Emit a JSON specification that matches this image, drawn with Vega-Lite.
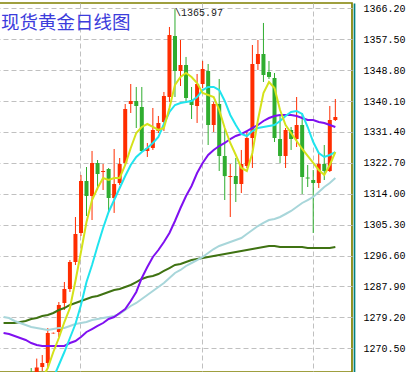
{
  "$schema": "https://vega.github.io/schema/vega-lite/v6.json",
  "width": 353,
  "height": 369,
  "autosize": {"type": "none"},
  "padding": {"left": -1, "top": 3, "right": 57, "bottom": 0},
  "background": "white",
  "config": {"view": {"stroke": "#808000", "strokeWidth": 1.7}},
  "title": {"text": "现货黄金日线图", "anchor": "start", "frame": "group", "orient": "top", "offset": -44, "baseline": "alphabetic", "font": "Noto Sans CJK SC", "fontSize": 18.5, "fontWeight": "normal", "color": "#3c3cdc", "dx": 2},
  "datasets": {
    "candles": [
      {"i":0,"o":1262.5,"h":1264.95,"l":1258,"c":1260},
      {"i":1,"o":1261.5,"h":1267.6,"l":1260.5,"c":1265.1},
      {"i":2,"o":1265.23,"h":1268.61,"l":1264.11,"c":1266.36},
      {"i":3,"o":1266.36,"h":1276.21,"l":1265.23,"c":1274.8},
      {"i":4,"o":1274.7,"h":1274.95,"l":1274.6,"c":1274.85},
      {"i":5,"o":1275.09,"h":1283.53,"l":1273.68,"c":1282.69},
      {"i":6,"o":1283.25,"h":1289.16,"l":1281.28,"c":1287.19},
      {"i":7,"o":1287.19,"h":1295.35,"l":1286.35,"c":1294.79},
      {"i":8,"o":1294.79,"h":1307.45,"l":1293.94,"c":1302.67},
      {"i":9,"o":1302.95,"h":1319.28,"l":1302.11,"c":1317.59},
      {"i":10,"o":1317.59,"h":1321.53,"l":1307.74,"c":1313.37},
      {"i":11,"o":1313.37,"h":1326.04,"l":1306.61,"c":1322.66},
      {"i":12,"o":1322.66,"h":1323.5,"l":1315.06,"c":1319.56},
      {"i":13,"o":1320.12,"h":1322.37,"l":1315.06,"c":1320.41},
      {"i":14,"o":1320.97,"h":1321.25,"l":1309.15,"c":1312.81},
      {"i":15,"o":1312.81,"h":1326.6,"l":1308.6,"c":1316.75},
      {"i":16,"o":1317.03,"h":1324.06,"l":1316.47,"c":1322.37},
      {"i":17,"o":1322.66,"h":1339.26,"l":1322.09,"c":1337.86},
      {"i":18,"o":1339.26,"h":1344.89,"l":1336.73,"c":1340.11},
      {"i":19,"o":1340.11,"h":1344.05,"l":1332.51,"c":1338.7},
      {"i":20,"o":1338.42,"h":1344.05,"l":1325.75,"c":1326.04},
      {"i":21,"o":1326.04,"h":1328.29,"l":1324.35,"c":1326.88},
      {"i":22,"o":1326.88,"h":1338.14,"l":1326.32,"c":1331.95},
      {"i":23,"o":1331.67,"h":1335.89,"l":1331.1,"c":1333.92},
      {"i":24,"o":1334.2,"h":1342.64,"l":1331.67,"c":1341.52},
      {"i":25,"o":1341.23,"h":1360.94,"l":1339.83,"c":1358.69},
      {"i":26,"o":1358.41,"h":1365.97,"l":1341.23,"c":1348.55},
      {"i":27,"o":1348.55,"h":1357.28,"l":1344.33,"c":1350.24},
      {"i":28,"o":1350.24,"h":1352.5,"l":1339.54,"c":1340.95},
      {"i":29,"o":1340.39,"h":1344.05,"l":1335.04,"c":1338.98},
      {"i":30,"o":1338.7,"h":1347.71,"l":1333.92,"c":1344.89},
      {"i":31,"o":1344.89,"h":1351.37,"l":1343.77,"c":1349.12},
      {"i":32,"o":1348.55,"h":1350.52,"l":1327.72,"c":1333.35},
      {"i":33,"o":1333.35,"h":1339.83,"l":1331.38,"c":1339.26},
      {"i":34,"o":1339.26,"h":1346.3,"l":1320.41,"c":1324.63},
      {"i":35,"o":1324.63,"h":1332.51,"l":1312.24,"c":1318.97},
      {"i":36,"o":1318.72,"h":1322.37,"l":1307.46,"c":1319.0},
      {"i":37,"o":1319.0,"h":1324.06,"l":1311.68,"c":1316.75},
      {"i":38,"o":1316.75,"h":1326.32,"l":1314.21,"c":1322.37},
      {"i":39,"o":1321.81,"h":1331.38,"l":1321.25,"c":1329.69},
      {"i":40,"o":1329.69,"h":1355.87,"l":1321.25,"c":1350.52},
      {"i":41,"o":1350.52,"h":1357.28,"l":1348.84,"c":1353.34},
      {"i":42,"o":1353.34,"h":1362.07,"l":1345.46,"c":1347.43},
      {"i":43,"o":1348.27,"h":1351.37,"l":1346.3,"c":1346.87},
      {"i":44,"o":1346.58,"h":1347.99,"l":1328.57,"c":1329.69},
      {"i":45,"o":1329.41,"h":1336.17,"l":1322.66,"c":1324.63},
      {"i":46,"o":1324.63,"h":1332.51,"l":1321.25,"c":1331.95},
      {"i":47,"o":1331.95,"h":1332.79,"l":1326.32,"c":1329.41},
      {"i":48,"o":1329.41,"h":1341.23,"l":1327.16,"c":1333.35},
      {"i":49,"o":1333.35,"h":1336.73,"l":1313.93,"c":1318.72},
      {"i":50,"o":1318.57,"h":1322.09,"l":1315.9,"c":1318.29},
      {"i":51,"o":1317.87,"h":1320.69,"l":1302.95,"c":1317.03},
      {"i":52,"o":1317.03,"h":1325.47,"l":1315.62,"c":1322.37},
      {"i":53,"o":1322.37,"h":1327.72,"l":1317.87,"c":1320.41},
      {"i":54,"o":1320.41,"h":1338.7,"l":1320.12,"c":1334.76},
      {"i":55,"o":1334.76,"h":1340.67,"l":1334.48,"c":1335.6}
    ],
    "ma": [
      {"i":-5,"m30":1274.81,"m60":1279.31,"m200":1277.62},
      {"i":-4,"m30":1274.53,"m60":1279.03,"m200":1277.62},
      {"i":-3,"m30":1273.96,"m60":1278.19,"m200":1277.62},
      {"i":-2,"m30":1273.4,"m60":1277.62,"m200":1277.9},
      {"i":-1,"m30":1272.84,"m60":1277.06,"m200":1278.19},
      {"i":0,"m30":1271.99,"m60":1276.5,"m200":1278.75},
      {"i":1,"m5":1257.36,"m10":1255.95,"m30":1271.43,"m60":1276.21,"m200":1279.03},
      {"i":2,"m5":1262.14,"m10":1257.36,"m30":1271.15,"m60":1275.93,"m200":1279.59},
      {"i":3,"m5":1264.96,"m10":1260.17,"m30":1271.15,"m60":1275.65,"m200":1279.87},
      {"i":4,"m5":1269.46,"m10":1262.14,"m30":1271.15,"m60":1275.93,"m200":1280.44},
      {"i":5,"m5":1273.4,"m10":1265.8,"m30":1271.15,"m60":1276.21,"m200":1281.28},
      {"i":6,"m5":1277.9,"m10":1269.46,"m30":1271.15,"m60":1276.21,"m200":1281.84},
      {"i":7,"m5":1281.84,"m10":1273.4,"m30":1271.99,"m60":1276.78,"m200":1282.69},
      {"i":8,"m5":1289.44,"m10":1277.34,"m30":1272.56,"m60":1277.34,"m200":1283.25},
      {"i":9,"m5":1297.61,"m10":1282.69,"m30":1273.68,"m60":1277.62,"m200":1283.81},
      {"i":10,"m5":1306.05,"m10":1289.16,"m30":1275.09,"m60":1277.9,"m200":1284.38},
      {"i":11,"m5":1312.24,"m10":1293.95,"m30":1275.93,"m60":1278.47,"m200":1284.94},
      {"i":12,"m5":1315.62,"m10":1299.3,"m30":1276.78,"m60":1278.75,"m200":1285.22},
      {"i":13,"m5":1318.44,"m10":1304.36,"m30":1277.62,"m60":1279.03,"m200":1285.78},
      {"i":14,"m5":1317.87,"m10":1308.87,"m30":1278.75,"m60":1279.31,"m200":1286.35},
      {"i":15,"m5":1318.44,"m10":1312.24,"m30":1279.31,"m60":1279.59,"m200":1286.91},
      {"i":16,"m5":1318.44,"m10":1315.62,"m30":1280.44,"m60":1280.16,"m200":1287.19},
      {"i":17,"m5":1322.09,"m10":1319.0,"m30":1281.56,"m60":1281.28,"m200":1287.76},
      {"i":18,"m5":1326.88,"m10":1322.09,"m30":1283.81,"m60":1282.41,"m200":1288.32},
      {"i":19,"m5":1331.1,"m10":1324.35,"m30":1286.35,"m60":1283.25,"m200":1289.16},
      {"i":20,"m5":1332.79,"m10":1325.75,"m30":1290.29,"m60":1284.38,"m200":1290.01},
      {"i":21,"m5":1333.63,"m10":1326.88,"m30":1293.38,"m60":1285.5,"m200":1290.57},
      {"i":22,"m5":1332.79,"m10":1328.29,"m30":1296.2,"m60":1286.63,"m200":1290.85},
      {"i":23,"m5":1331.95,"m10":1329.98,"m30":1298.17,"m60":1287.76,"m200":1291.41},
      {"i":24,"m5":1332.51,"m10":1333.63,"m30":1300.42,"m60":1288.88,"m200":1292.26},
      {"i":25,"m5":1338.14,"m10":1337.01,"m30":1302.95,"m60":1290.29,"m200":1293.1},
      {"i":26,"m5":1344.61,"m10":1338.98,"m30":1306.33,"m60":1291.7,"m200":1293.95},
      {"i":27,"m5":1346.86,"m10":1339.55,"m30":1309.99,"m60":1292.54,"m200":1294.23},
      {"i":28,"m5":1347.99,"m10":1339.83,"m30":1313.37,"m60":1293.67,"m200":1294.79},
      {"i":29,"m5":1346.86,"m10":1340.11,"m30":1316.18,"m60":1294.51,"m200":1295.35},
      {"i":30,"m5":1345.18,"m10":1341.23,"m30":1319.84,"m60":1295.35,"m200":1295.64},
      {"i":31,"m5":1342.36,"m10":1343.2,"m30":1322.66,"m60":1296.2,"m200":1295.92},
      {"i":32,"m5":1341.8,"m10":1344.05,"m30":1324.91,"m60":1297.33,"m200":1296.2},
      {"i":33,"m5":1341.23,"m10":1344.05,"m30":1326.32,"m60":1298.45,"m200":1296.48},
      {"i":34,"m5":1337.58,"m10":1343.2,"m30":1327.44,"m60":1299.3,"m200":1296.76},
      {"i":35,"m5":1332.51,"m10":1340.11,"m30":1328.29,"m60":1299.86,"m200":1297.04},
      {"i":36,"m5":1328.29,"m10":1336.17,"m30":1329.41,"m60":1300.42,"m200":1297.33},
      {"i":37,"m5":1324.91,"m10":1333.35,"m30":1330.26,"m60":1300.98,"m200":1297.61},
      {"i":38,"m5":1321.25,"m10":1330.82,"m30":1330.82,"m60":1301.55,"m200":1297.89},
      {"i":39,"m5":1320.41,"m10":1330.26,"m30":1331.66,"m60":1302.67,"m200":1298.17},
      {"i":40,"m5":1325.47,"m10":1331.66,"m30":1332.51,"m60":1303.8,"m200":1298.45},
      {"i":41,"m5":1334.76,"m10":1332.51,"m30":1333.35,"m60":1304.92,"m200":1298.73},
      {"i":42,"m5":1342.36,"m10":1332.79,"m30":1334.48,"m60":1305.77,"m200":1299.01},
      {"i":43,"m5":1345.46,"m10":1333.07,"m30":1335.32,"m60":1306.61,"m200":1299.3},
      {"i":44,"m5":1343.77,"m10":1333.35,"m30":1335.89,"m60":1306.9,"m200":1299.3},
      {"i":45,"m5":1337.58,"m10":1334.48,"m30":1336.17,"m60":1307.46,"m200":1299.01},
      {"i":46,"m5":1333.35,"m10":1335.89,"m30":1336.17,"m60":1308.3,"m200":1299.01},
      {"i":47,"m5":1331.1,"m10":1337.01,"m30":1336.17,"m60":1309.15,"m200":1299.01},
      {"i":48,"m5":1328.85,"m10":1337.29,"m30":1335.89,"m60":1310.27,"m200":1299.01},
      {"i":49,"m5":1326.6,"m10":1336.45,"m30":1335.32,"m60":1311.4,"m200":1299.01},
      {"i":50,"m5":1324.63,"m10":1332.79,"m30":1334.76,"m60":1312.24,"m200":1298.73},
      {"i":51,"m5":1322.66,"m10":1328.57,"m30":1334.76,"m60":1313.09,"m200":1298.73},
      {"i":52,"m5":1320.69,"m10":1325.47,"m30":1334.2,"m60":1314.49,"m200":1298.73},
      {"i":53,"m5":1319.28,"m10":1324.35,"m30":1333.92,"m60":1315.9,"m200":1298.73},
      {"i":54,"m5":1322.09,"m10":1324.91,"m30":1333.35,"m60":1317.03,"m200":1298.73},
      {"i":55,"m5":1325.75,"m10":1325.75,"m30":1332.79,"m60":1318.44,"m200":1299.01}
    ],
    "note": [{"i": 26, "p": 1365.97, "t": "\\1365.97"}]
  },
  "layer": [
    {
      "data": {"name": "candles"},
      "mark": {"type": "rule", "strokeWidth": 1, "clip": true},
      "encoding": {
        "x": {"field": "i", "type": "quantitative", "scale": {"domain": [-4.92, 57.109], "nice": false, "zero": false},
              "axis": {"orient": "bottom", "values": [8.8, 30.9, 51], "labels": false, "ticks": false, "domain": false, "grid": true, "gridColor": "#c0c0c0", "gridDash": [5, 3], "gridWidth": 1, "title": null}},
        "y": {"field": "l", "type": "quantitative", "scale": {"domain": [1263.83, 1367.69], "nice": false, "zero": false},
              "axis": {"orient": "right", "values": [1366.2, 1357.5, 1348.8, 1340.1, 1331.4, 1322.7, 1314.0, 1305.3, 1296.6, 1287.9, 1279.2, 1270.5], "format": ".2f", "labelFont": "Liberation Mono", "labelFontSize": 10, "labelColor": "#000000", "ticks": false, "domain": true, "domainColor": "#008080", "domainWidth": 1.7, "offset": 2, "grid": true, "gridColor": "#c0c0c0", "gridDash": [5, 3], "gridWidth": 1, "labelPadding": 9, "labelFlush": false, "labelOverlap": false, "title": null}},
        "y2": {"field": "h"},
        "color": {"condition": {"test": "datum.c >= datum.o", "value": "#ff2d00"}, "value": "#2fad2f"}
      }
    },
    {
      "data": {"name": "candles"},
      "mark": {"type": "bar", "width": 4, "clip": true},
      "encoding": {
        "x": {"field": "i", "type": "quantitative",
              "axis": {"orient": "bottom", "values": [8.8, 30.9, 51], "labels": false, "ticks": false, "domain": false, "grid": true, "gridColor": "#c0c0c0", "gridDash": [5, 3], "gridWidth": 1, "title": null}},
        "y": {"field": "o", "type": "quantitative",
              "axis": {"orient": "right", "values": [1366.2, 1357.5, 1348.8, 1340.1, 1331.4, 1322.7, 1314.0, 1305.3, 1296.6, 1287.9, 1279.2, 1270.5], "format": ".2f", "labelFont": "Liberation Mono", "labelFontSize": 10, "labelColor": "#000000", "ticks": false, "domain": true, "domainColor": "#008080", "domainWidth": 1.7, "offset": 2, "grid": true, "gridColor": "#c0c0c0", "gridDash": [5, 3], "gridWidth": 1, "labelPadding": 9, "labelFlush": false, "labelOverlap": false, "title": null}},
        "y2": {"field": "c"},
        "color": {"condition": {"test": "datum.c >= datum.o", "value": "#ff2d00"}, "value": "#2fad2f"}
      }
    },
    {
      "data": {"name": "ma"},
      "transform": [{"fold": ["m200", "m60", "m30", "m10", "m5"], "as": ["series", "value"]}],
      "mark": {"type": "line", "strokeWidth": 2, "clip": true, "interpolate": "linear"},
      "encoding": {
        "x": {"field": "i", "type": "quantitative",
              "axis": {"orient": "bottom", "values": [8.8, 30.9, 51], "labels": false, "ticks": false, "domain": false, "grid": true, "gridColor": "#c0c0c0", "gridDash": [5, 3], "gridWidth": 1, "title": null}},
        "y": {"field": "value", "type": "quantitative",
              "axis": {"orient": "right", "values": [1366.2, 1357.5, 1348.8, 1340.1, 1331.4, 1322.7, 1314.0, 1305.3, 1296.6, 1287.9, 1279.2, 1270.5], "format": ".2f", "labelFont": "Liberation Mono", "labelFontSize": 10, "labelColor": "#000000", "ticks": false, "domain": true, "domainColor": "#008080", "domainWidth": 1.7, "offset": 2, "grid": true, "gridColor": "#c0c0c0", "gridDash": [5, 3], "gridWidth": 1, "labelPadding": 9, "labelFlush": false, "labelOverlap": false, "title": null}},
        "color": {"field": "series", "type": "nominal", "legend": null,
                  "scale": {"domain": ["m200", "m60", "m30", "m10", "m5"], "range": ["#3f7212", "#a8d6da", "#7f10f0", "#20e4ee", "#d4e21a"]}}
      }
    },
    {
      "data": {"name": "note"},
      "mark": {"type": "text", "align": "left", "baseline": "top", "font": "Liberation Mono", "fontSize": 10, "color": "#222222", "dy": -1},
      "encoding": {
        "x": {"field": "i", "type": "quantitative",
              "axis": {"orient": "bottom", "values": [8.8, 30.9, 51], "labels": false, "ticks": false, "domain": false, "grid": true, "gridColor": "#c0c0c0", "gridDash": [5, 3], "gridWidth": 1, "title": null}},
        "y": {"field": "p", "type": "quantitative",
              "axis": {"orient": "right", "values": [1366.2, 1357.5, 1348.8, 1340.1, 1331.4, 1322.7, 1314.0, 1305.3, 1296.6, 1287.9, 1279.2, 1270.5], "format": ".2f", "labelFont": "Liberation Mono", "labelFontSize": 10, "labelColor": "#000000", "ticks": false, "domain": true, "domainColor": "#008080", "domainWidth": 1.7, "offset": 2, "grid": true, "gridColor": "#c0c0c0", "gridDash": [5, 3], "gridWidth": 1, "labelPadding": 9, "labelFlush": false, "labelOverlap": false, "title": null}},
        "text": {"field": "t"}
      }
    }
  ]
}
